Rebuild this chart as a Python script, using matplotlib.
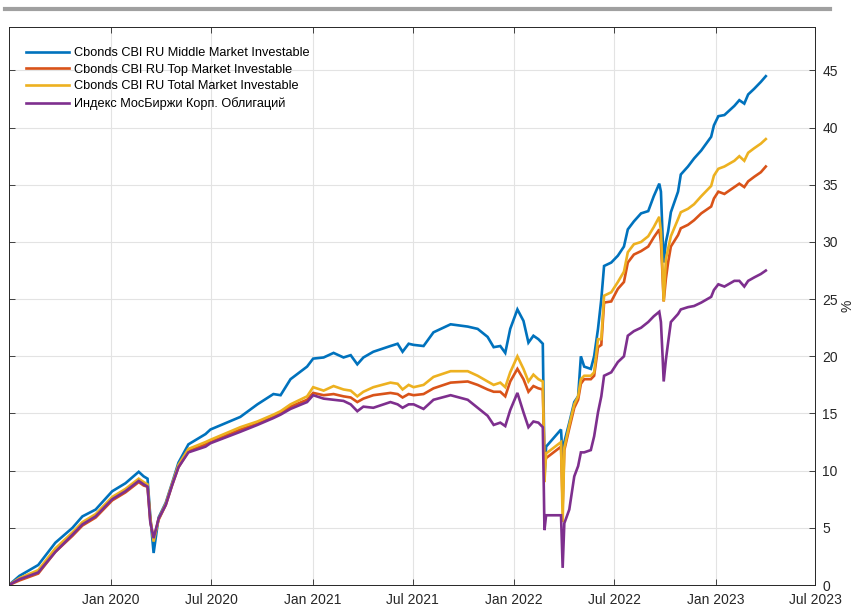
import datetime as dt

import matplotlib.dates as mdates
import matplotlib.pyplot as plt
from matplotlib.lines import Line2D

plt.rcParams["font.family"] = ["Liberation Sans", "DejaVu Sans"]

DATES = [
    "2019-07-01", "2019-07-20", "2019-08-23", "2019-09-23", "2019-10-24", "2019-11-11",
    "2019-12-05", "2020-01-04", "2020-01-28", "2020-02-21", "2020-03-01", "2020-03-08",
    "2020-03-13", "2020-03-19", "2020-03-28", "2020-04-10", "2020-04-22", "2020-05-03",
    "2020-05-21", "2020-06-21", "2020-06-30", "2020-08-23", "2020-09-23", "2020-10-22",
    "2020-11-04", "2020-11-22", "2020-12-22", "2021-01-02", "2021-01-21", "2021-02-08",
    "2021-02-26", "2021-03-11", "2021-03-23", "2021-04-03", "2021-04-21", "2021-05-22",
    "2021-06-04", "2021-06-13", "2021-06-24", "2021-07-03", "2021-07-21", "2021-08-08",
    "2021-09-08", "2021-10-09", "2021-10-27", "2021-11-14", "2021-11-25", "2021-12-07",
    "2021-12-16", "2021-12-25", "2022-01-07", "2022-01-18", "2022-01-27", "2022-02-05",
    "2022-02-14", "2022-02-22", "2022-02-24", "2022-02-25", "2022-02-28", "2022-03-27",
    "2022-03-30", "2022-04-02", "2022-04-11", "2022-04-20", "2022-04-27", "2022-05-02",
    "2022-05-08", "2022-05-20", "2022-05-26", "2022-06-02", "2022-06-08", "2022-06-13",
    "2022-06-26", "2022-07-08", "2022-07-19", "2022-07-26", "2022-08-06", "2022-08-19",
    "2022-09-01", "2022-09-11", "2022-09-21", "2022-09-24", "2022-09-27", "2022-09-29",
    "2022-10-03", "2022-10-07", "2022-10-12", "2022-10-25", "2022-10-30", "2022-11-12",
    "2022-11-23", "2022-12-06", "2022-12-24", "2022-12-29", "2023-01-06", "2023-01-17",
    "2023-02-04", "2023-02-13", "2023-02-22", "2023-03-01", "2023-03-12", "2023-03-24",
    "2023-04-02",
]

MIDDLE = [
    0.0, 0.8, 1.75, 3.7, 5.0, 6.0, 6.6, 8.2, 8.9, 9.9, 9.5, 9.3,
    6.0, 2.8, 5.9, 7.2, 9.0, 10.7, 12.3, 13.2, 13.6, 14.7, 15.8, 16.7,
    16.6, 18.0, 19.1, 19.8, 19.9, 20.3, 19.9, 20.1, 19.3, 19.9, 20.4, 20.9,
    21.1, 20.4, 21.1, 21.0, 20.9, 22.1, 22.8, 22.6, 22.4, 21.7, 20.8, 20.9,
    20.3, 22.4, 24.1, 23.1, 21.2, 21.8, 21.5, 21.1, 14.0, 9.4, 12.1, 13.6,
    11.0, 12.5, 14.2, 16.0, 16.5, 20.0, 19.1, 18.9, 20.0, 22.4, 25.0, 27.9,
    28.2, 28.8, 29.6, 31.1, 31.8, 32.5, 32.7, 34.0, 35.1, 34.4, 30.5, 28.2,
    30.0, 30.9, 32.6, 34.4, 35.9, 36.6, 37.3, 38.0, 39.2, 40.2, 41.0, 41.1,
    41.9, 42.4, 42.1, 42.9, 43.4, 44.0, 44.5,
]

TOP = [
    0.0, 0.4, 1.0, 2.9, 4.3, 5.2, 5.9, 7.4, 8.1, 9.0, 8.7, 8.6,
    5.6, 4.0, 5.7, 7.0, 8.8, 10.3, 11.7, 12.3, 12.5, 13.6, 14.1, 14.7,
    15.0, 15.6, 16.2, 16.8, 16.6, 16.7, 16.5, 16.4, 16.0, 16.3, 16.6, 16.8,
    16.7, 16.4, 16.7, 16.6, 16.7, 17.2, 17.7, 17.8, 17.5, 17.1, 16.9, 16.9,
    16.5, 17.8, 18.9, 18.0, 16.9, 17.4, 17.2, 17.1, 13.0, 10.5, 11.1, 12.1,
    7.0, 11.8, 13.7, 15.5, 16.2, 17.6, 18.0, 18.0, 18.3, 20.8, 21.0, 24.7,
    24.8, 25.9, 26.5, 28.2, 28.9, 29.2, 29.6, 30.4, 31.1, 30.0, 27.0, 24.8,
    26.8, 28.2, 29.6, 30.6, 31.2, 31.5, 31.9, 32.5, 33.1, 33.8, 34.4, 34.2,
    34.8, 35.1, 34.8, 35.3, 35.7, 36.1, 36.6,
]

TOTAL = [
    0.0, 0.6, 1.3, 3.2, 4.6, 5.5, 6.2, 7.7, 8.4, 9.3, 9.0, 8.8,
    5.8, 3.8, 5.8, 7.1, 8.9, 10.5, 11.9, 12.5, 12.7, 13.8, 14.3, 14.9,
    15.2, 15.8, 16.5, 17.3, 17.0, 17.4, 17.1, 17.0, 16.5, 16.9, 17.3, 17.7,
    17.6, 17.1, 17.5, 17.3, 17.5, 18.2, 18.7, 18.7, 18.3, 17.8, 17.5, 17.7,
    17.3, 18.6, 20.0, 18.9, 17.8, 18.4, 18.0, 17.8, 13.0, 9.0, 11.5, 12.5,
    5.5, 12.0, 14.0, 15.8, 16.5, 18.0, 18.3, 18.3, 18.6, 21.5, 21.5, 25.3,
    25.6, 26.5, 27.4, 29.1, 29.8, 30.0, 30.5, 31.3, 32.2, 30.9, 27.4, 24.8,
    28.5, 29.4, 30.5, 32.0, 32.6, 32.9, 33.3, 34.0, 34.9, 35.8, 36.4, 36.6,
    37.1, 37.5, 37.1, 37.8, 38.2, 38.6, 39.0,
]

MOEX = [
    0.0, 0.5, 1.1, 2.9, 4.4, 5.3, 6.0, 7.5, 8.2, 9.1, 8.8, 8.6,
    5.5, 4.1, 5.8, 7.0, 8.8, 10.3, 11.6, 12.1, 12.4, 13.4, 14.0, 14.6,
    14.9, 15.4, 16.0, 16.6, 16.3, 16.2, 16.1, 15.8, 15.2, 15.6, 15.5, 16.0,
    15.8, 15.5, 15.8, 15.8, 15.4, 16.2, 16.6, 16.2, 15.5, 14.8, 14.0, 14.2,
    13.9, 15.3, 16.8, 15.1, 13.8, 14.3, 14.2, 13.8, 8.0, 4.8, 6.1, 6.1,
    1.5, 5.4, 6.6, 9.5, 10.4, 11.6, 11.6, 11.8, 13.0, 15.1, 16.5, 18.3,
    18.6, 19.5, 20.0, 21.8, 22.2, 22.5, 23.0, 23.5, 23.9, 23.0, 20.0, 17.8,
    19.7, 21.2, 23.0, 23.7, 24.1, 24.3, 24.4, 24.7, 25.2, 25.8, 26.3, 26.1,
    26.6, 26.6, 26.1, 26.6, 26.9, 27.2, 27.5,
]

SERIES = [
    ("Cbonds CBI RU Middle Market Investable", MIDDLE, "#0072BD"),
    ("Cbonds CBI RU Top Market Investable", TOP, "#D95319"),
    ("Cbonds CBI RU Total Market Investable", TOTAL, "#EDB120"),
    ("Индекс МосБиржи Корп. Облигаций", MOEX, "#7E2F8E"),
]

TICK_DATES = ["2020-01-01", "2020-07-01", "2021-01-01", "2021-07-01",
              "2022-01-01", "2022-07-01", "2023-01-01", "2023-07-01"]
Y_TICKS = [0, 5, 10, 15, 20, 25, 30, 35, 40, 45]

AXIS_FARBE = "#262626"


def to_dates(values):
    return [dt.datetime.strptime(v, "%Y-%m-%d") for v in values]


fig = plt.figure(figsize=(8.55, 6.08), dpi=100)
ax = fig.add_axes([0.0105, 0.0378, 0.9433, 0.9178])

dates = to_dates(DATES)
for label, values, color in SERIES:
    ax.plot(dates, values, color=color, linewidth=1.9, label=label, solid_joinstyle="miter")

ax.set_xlim(dt.datetime(2019, 7, 1), dt.datetime(2023, 7, 1))
ax.set_ylim(0, 48.8)
ax.set_xticks(to_dates(TICK_DATES))
ax.xaxis.set_major_formatter(mdates.DateFormatter("%b %Y"))
ax.set_yticks(Y_TICKS)

ax.yaxis.tick_right()
ax.yaxis.set_label_position("right")
ax.tick_params(axis="both", which="both", direction="in", length=4, width=0.6,
               color=AXIS_FARBE, labelcolor=AXIS_FARBE, labelsize=10,
               top=True, bottom=True, left=True, right=True)
ax.tick_params(axis="x", pad=6)
ax.tick_params(axis="y", pad=5)
ax.set_ylabel("%", fontsize=10, color=AXIS_FARBE, labelpad=2)

ax.grid(True, color="#e3e3e3", linewidth=0.8)
ax.set_axisbelow(True)
for spine in ax.spines.values():
    spine.set_color(AXIS_FARBE)
    spine.set_linewidth(0.7)

ax.legend(loc="upper left", bbox_to_anchor=(0.009, 0.982), frameon=False, fontsize=9.2,
          handlelength=3.3, handletextpad=0.4, labelspacing=0.36, borderaxespad=0.4)

fig.add_artist(Line2D([0.006, 0.971], [0.986, 0.986], color="#a0a0a0", linewidth=3.0))

fig.savefig("out.png", dpi=100)
